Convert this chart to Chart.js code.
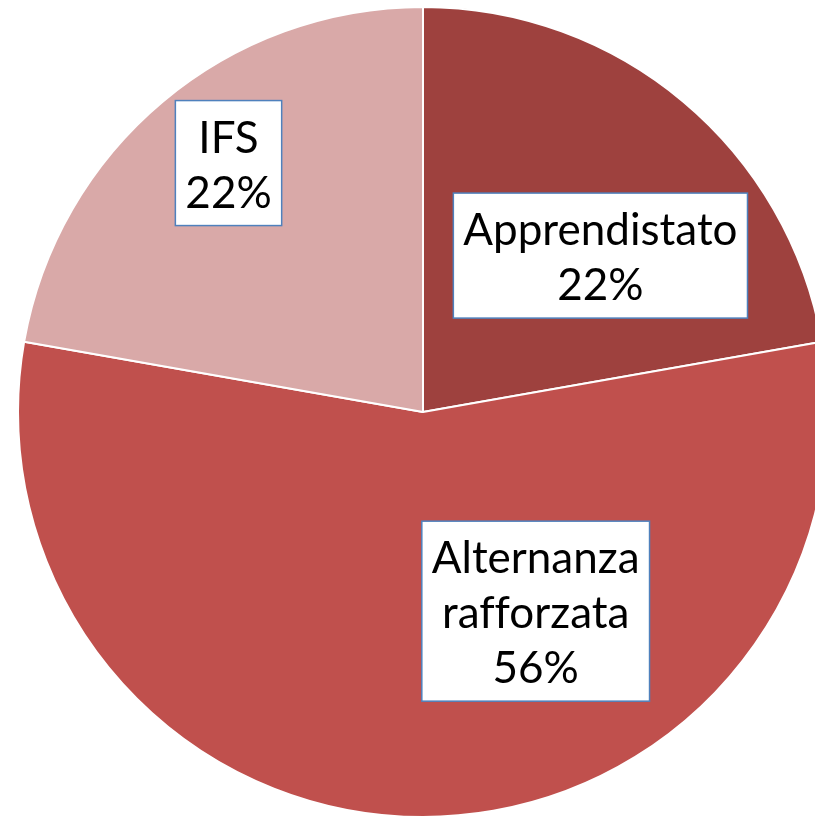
<!DOCTYPE html>
<html>
<head>
<meta charset="utf-8">
<script src="https://cdn.jsdelivr.net/npm/chart.js@4/dist/chart.umd.min.js"></script>
<style>
  html, body { margin: 0; padding: 0; background: #fff; overflow: hidden; }
  #wrap { position: absolute; left: 0; top: 0; width: 846px; height: 824px; }
</style>
</head>
<body>
<div id="wrap"><canvas id="myChart"></canvas></div>
<script>
// slice data, clockwise from 12 o'clock
const categories = ['Apprendistato', 'Alternanza rafforzata', 'IFS'];
const labelLines = [['Apprendistato'], ['Alternanza', 'rafforzata'], ['IFS']];
const values = [2, 5, 2];
const sliceColors = ['#9E413E', '#C0504D', '#D9A9A8'];

// where each callout sits: angle shift from slice middle (deg) and fraction of radius
const labelPlace = [
  { shift: 8.6, r: 0.584 },
  { shift: -29.5, r: 0.565 },
  { shift: 2, r: 0.78 }
];

const boxLabels = {
  id: 'boxLabels',
  afterDatasetsDraw(chart) {
    let ctx = chart.ctx;
    let meta = chart.getDatasetMeta(0);
    let data = chart.data.datasets[0].data;
    let total = data.reduce((a, b) => a + b, 0);
    let lineH = 55;
    let padX = 10, padY = 7.5;

    ctx.save();
    ctx.font = '44px Lato';
    meta.data.forEach((arc, i) => {
      let p = arc.getProps(['x', 'y', 'startAngle', 'endAngle', 'outerRadius'], true);
      let a = (p.startAngle + p.endAngle) / 2 + labelPlace[i].shift * Math.PI / 180;
      let cx = p.x + Math.cos(a) * p.outerRadius * labelPlace[i].r;
      let cy = p.y + Math.sin(a) * p.outerRadius * labelPlace[i].r;

      let lines = labelLines[i].concat([Math.round(data[i] / total * 100) + '%']);
      // zero width non-joiner so "ff" is not drawn as a ligature
      lines = lines.map(t => t.replace(/ff/g, 'f\u200Cf'));
      let w = Math.max(...lines.map(t => ctx.measureText(t).width)) + padX * 2;
      let h = lines.length * lineH + padY * 2;
      let left = cx - w / 2, top = cy - h / 2;

      ctx.fillStyle = '#fff';
      ctx.fillRect(left, top, w, h);
      ctx.strokeStyle = '#4F81BD';
      ctx.lineWidth = 1.5;
      ctx.strokeRect(left, top, w, h);

      ctx.fillStyle = '#000';
      ctx.textAlign = 'center';
      ctx.textBaseline = 'alphabetic';
      lines.forEach((t, j) => {
        let mid = top + padY + lineH * (j + 0.5);
        ctx.fillText(t, cx, mid + 17);
      });
    });
    ctx.restore();
  }
};

let ctx = document.getElementById('myChart').getContext('2d');
let myChart = new Chart(ctx, {
  type: 'pie',
  data: {
    labels: categories,
    datasets: [{
      data: values,
      backgroundColor: sliceColors,
      borderColor: '#fff',
      borderWidth: 2
    }]
  },
  options: {
    responsive: true,
    maintainAspectRatio: false,
    animation: false,
    radius: 405,
    layout: { padding: 0 },
    plugins: {
      legend: { display: false },
      tooltip: { enabled: false }
    }
  },
  plugins: [boxLabels]
});
</script>
</body>
</html>
